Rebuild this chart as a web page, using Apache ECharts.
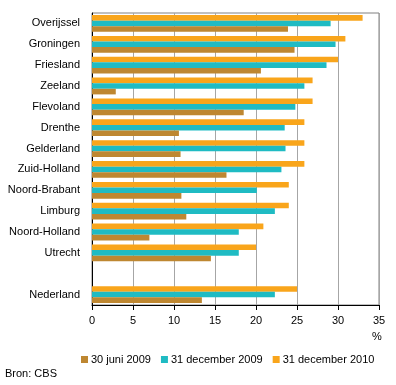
<!DOCTYPE html>
<html><head><meta charset="utf-8">
<script src="https://cdn.jsdelivr.net/npm/echarts@6/dist/echarts.min.js"></script>
<style>html,body{margin:0;padding:0;background:#fff}#c{width:396px;height:385px}</style>
</head><body><div id="c"></div>
<script>
const categories = ['Overijssel','Groningen','Friesland','Zeeland','Flevoland','Drenthe','Gelderland','Zuid-Holland','Noord-Brabant','Limburg','Noord-Holland','Utrecht','','Nederland'];
const seriesNames = ['30 juni 2009','31 december 2009','31 december 2010'];
const juni2009 = [23.9,24.7,20.6,2.9,18.5,10.6,10.8,16.4,10.9,11.5,7.0,14.5,null,13.4];
const dec2009 = [29.1,29.7,28.6,25.9,24.8,23.5,23.6,23.1,20.1,22.3,17.9,17.9,null,22.3];
const dec2010 = [33.0,30.9,30.0,26.9,26.9,25.9,25.9,25.9,24.0,24.0,20.9,20.0,null,25.0];
const xTicks = [0,5,10,15,20,25,30,35];
const colors = ['#BE8731','#1FBBC3','#F9A51B'];
const font = 'Liberation Sans, Arial, sans-serif';
const chart = echarts.init(document.getElementById('c'));
chart.setOption({
  animation:false,
  grid:{left:92,right:17,top:13,bottom:80,show:true,borderColor:'#808080',borderWidth:1,containLabel:false},
  legend:{top:354,left:81,width:330,padding:0,itemWidth:7,itemHeight:7,itemGap:10,icon:'rect',
    textStyle:{fontFamily:font,fontSize:11,color:'#000',padding:[0,0,0,-2]},data:seriesNames},
  graphic:[
    {type:'text',left:5,top:368,style:{text:'Bron: CBS',fontFamily:font,fontSize:11,fill:'#000'}},
    {type:'text',left:372,top:331,style:{text:'%',fontFamily:font,fontSize:11,fill:'#000'}}
  ],
  xAxis:{type:'value',min:0,max:35,interval:5,
    axisLine:{show:true,lineStyle:{color:'#000',width:1}},
    axisTick:{show:true,length:5,lineStyle:{color:'#000'}},
    axisLabel:{fontFamily:font,fontSize:11,color:'#000',margin:10,
      formatter:v=>xTicks.includes(v)?String(v):''},
    splitLine:{show:true,lineStyle:{color:'#A6A6A6',width:1}}},
  yAxis:{type:'category',data:categories,inverse:true,
    axisLine:{show:true,lineStyle:{color:'#000',width:1}},
    axisTick:{show:false},
    axisLabel:{fontFamily:font,fontSize:11,color:'#000',margin:12},
    splitLine:{show:false}},
  series:[
    {name:seriesNames[2],type:'bar',data:dec2010,barWidth:5.6,barGap:'0%',barCategoryGap:'20%',itemStyle:{color:colors[2]}},
    {name:seriesNames[1],type:'bar',data:dec2009,barWidth:5.6,barGap:'0%',itemStyle:{color:colors[1]}},
    {name:seriesNames[0],type:'bar',data:juni2009,barWidth:5.6,barGap:'0%',itemStyle:{color:colors[0]}}
  ]
});
</script></body></html>
